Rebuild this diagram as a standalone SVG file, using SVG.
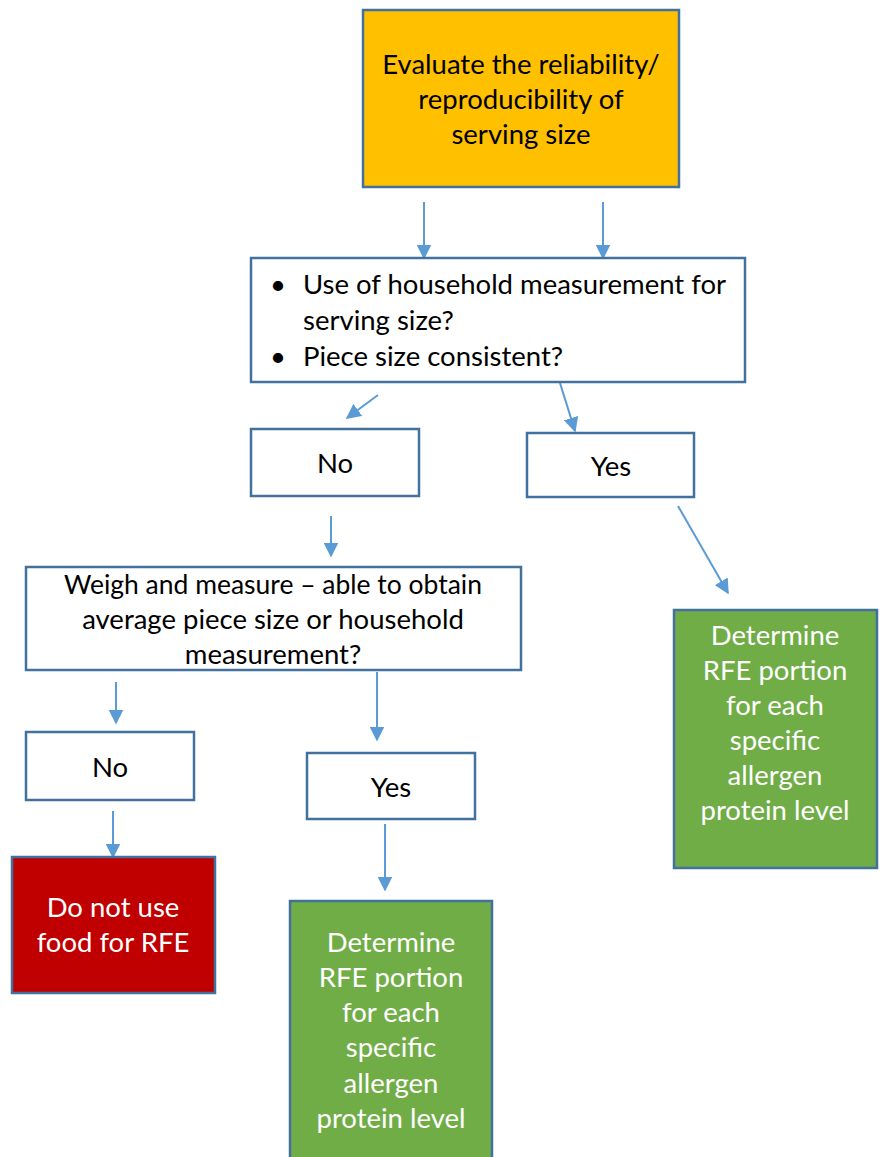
<svg xmlns="http://www.w3.org/2000/svg" width="881" height="1157" viewBox="0 0 881 1157">
<style>
.box{stroke:#41719C;stroke-width:2.5}
.w{fill:#fff}
.t{font-family:"Lato","Liberation Sans",sans-serif;font-size:27.5px;fill:#000;text-anchor:middle}
.tw{fill:#fff}
.c{stroke:#5B9BD5;stroke-width:2;fill:none;marker-end:url(#ah)}
</style>
<defs>
<marker id="ah" viewBox="0 0 10 10" refX="9" refY="5" markerWidth="15" markerHeight="15" orient="auto" markerUnits="userSpaceOnUse">
<path d="M0,0 L10,5 L0,10 z" fill="#5B9BD5"/>
</marker>
</defs>
<rect width="881" height="1157" fill="#fff"/>
<g id="connectors">
<line class="c" x1="424" y1="202" x2="424" y2="258"/>
<line class="c" x1="603" y1="202" x2="603" y2="258"/>
<line class="c" x1="378" y1="395" x2="347" y2="418"/>
<line class="c" x1="560" y1="383" x2="575" y2="431"/>
<line class="c" x1="331" y1="516" x2="331" y2="556"/>
<line class="c" x1="678" y1="506" x2="728" y2="593"/>
<line class="c" x1="116" y1="682" x2="116" y2="723"/>
<line class="c" x1="377" y1="672" x2="377" y2="740"/>
<line class="c" x1="113" y1="811" x2="113" y2="857"/>
<line class="c" x1="385" y1="824" x2="385" y2="890"/>
</g>
<g id="evaluate">
<rect class="box" x="363" y="10" width="316" height="177" fill="#FFC000"/>
<text class="t" x="521" y="74">Evaluate the reliability/</text>
<text class="t" x="521" y="109">reproducibility of</text>
<text class="t" x="521" y="144">serving size</text>
</g>
<g id="household">
<rect class="box w" x="251" y="258" width="494" height="124"/>
<text class="t" x="270" y="294" style="text-anchor:start">•</text>
<text class="t" x="303" y="294" style="text-anchor:start">Use of household measurement for</text>
<text class="t" x="303" y="330" style="text-anchor:start">serving size?</text>
<text class="t" x="270" y="366" style="text-anchor:start">•</text>
<text class="t" x="303" y="366" style="text-anchor:start">Piece size consistent?</text>
</g>
<g id="no1">
<rect class="box w" x="251" y="429" width="168" height="67"/>
<text class="t" x="335" y="473">No</text>
</g>
<g id="yes1">
<rect class="box w" x="527" y="433" width="167" height="64"/>
<text class="t" x="611" y="476">Yes</text>
</g>
<g id="weigh">
<rect class="box w" x="26" y="567" width="495" height="103"/>
<text class="t" x="273" y="594" textLength="418" lengthAdjust="spacingAndGlyphs">Weigh and measure – able to obtain</text>
<text class="t" x="273" y="629">average piece size or household</text>
<text class="t" x="273" y="664">measurement?</text>
</g>
<g id="no2">
<rect class="box w" x="26" y="732" width="168" height="68"/>
<text class="t" x="110" y="777">No</text>
</g>
<g id="yes2">
<rect class="box w" x="307" y="753" width="168" height="66"/>
<text class="t" x="391" y="797">Yes</text>
</g>
<g id="donotuse">
<rect class="box" x="12" y="857" width="203" height="136" fill="#C00000"/>
<text class="t tw" x="113" y="917">Do not use</text>
<text class="t tw" x="113" y="952">food for RFE</text>
</g>
<g id="determine1">
<rect class="box" x="290" y="901" width="202" height="270" fill="#70AD47"/>
<text class="t tw" x="391" y="952">Determine</text>
<text class="t tw" x="391" y="987">RFE portion</text>
<text class="t tw" x="391" y="1022">for each</text>
<text class="t tw" x="391" y="1057">specific</text>
<text class="t tw" x="391" y="1093">allergen</text>
<text class="t tw" x="391" y="1128">protein level</text>
</g>
<g id="determine2">
<rect class="box" x="674" y="610" width="203" height="258" fill="#70AD47"/>
<text class="t tw" x="775" y="645">Determine</text>
<text class="t tw" x="775" y="680">RFE portion</text>
<text class="t tw" x="775" y="715">for each</text>
<text class="t tw" x="775" y="750">specific</text>
<text class="t tw" x="775" y="785">allergen</text>
<text class="t tw" x="775" y="820">protein level</text>
</g>
</svg>
